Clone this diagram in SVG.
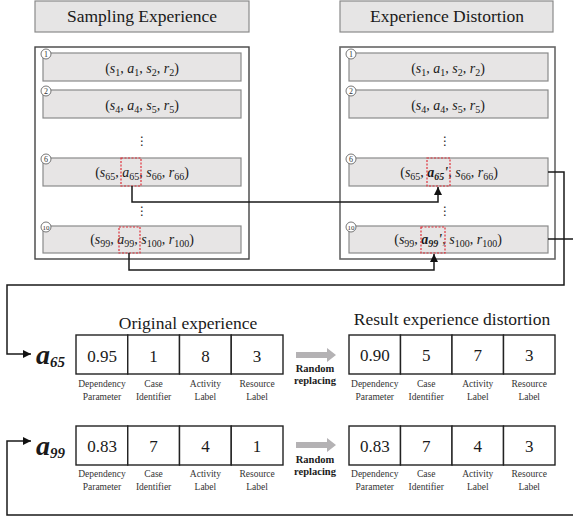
<svg xmlns="http://www.w3.org/2000/svg" width="573" height="518" viewBox="0 0 573 518" font-family="'Liberation Serif','DejaVu Serif','Times New Roman',serif">
<defs>
<style>
text{font-family:'Liberation Serif','DejaVu Serif','Times New Roman',serif;fill:#1a1a1a}
.title{font-size:17.5px;text-anchor:middle}
.tb{fill:#e6e5e5;stroke:#8a8a8a;stroke-width:1.2}
.row{fill:#e7e5e5;stroke:#8a8a8a;stroke-width:1.2}
.outer{fill:#fff;stroke:#444;stroke-width:1.4}
.tup{font-size:14px;text-anchor:middle}
.i{font-style:italic}
.bi{font-style:italic;font-weight:bold}
.red{fill:none;stroke:#e0303a;stroke-width:1.2;stroke-dasharray:2 1.5}
.num{fill:#fff;stroke:#666;stroke-width:0.9}
.nt{font-size:8px;text-anchor:middle;fill:#333}
.dots{font-family:'DejaVu Sans',sans-serif;font-size:12px;text-anchor:middle}
.cell{fill:#fff;stroke:#222;stroke-width:1.4}
.v{font-size:17px;text-anchor:middle}
.lbl{font-size:9.5px;text-anchor:middle;fill:#333}
.rr{font-size:10.5px;font-weight:bold;text-anchor:middle}
.big{font-size:28px;font-weight:bold;font-style:italic}
.cap{font-size:17.5px;text-anchor:middle}
.conn{fill:none;stroke:#1a1a1a;stroke-width:1.5}
.garrow{fill:#b4b2b4}
</style>
<marker id="ah" viewBox="0 0 10 10" refX="10" refY="5" markerWidth="8" markerHeight="8" markerUnits="userSpaceOnUse" orient="auto"><path d="M0,0 L10,5 L0,10 z" fill="#111"/></marker>
</defs>
<rect width="573" height="518" fill="#fff"/>

<g id="sampling-title"><rect class="tb" x="35" y="1" width="214" height="31"/><text class="title" x="142" y="22">Sampling Experience</text></g>
<g id="distortion-title"><rect class="tb" x="340" y="1" width="213" height="31"/><text class="title" x="447" y="22">Experience Distortion</text></g>

<g id="sampling-buffer">
<rect class="outer" x="35" y="47" width="214" height="212"/>
<rect class="row" x="43" y="53" width="198" height="28"/>
<rect class="row" x="43" y="90" width="198" height="28"/>
<rect class="row" x="43" y="158" width="198" height="28"/>
<rect class="row" x="43" y="226" width="198" height="27"/>
<circle class="num" cx="46" cy="54" r="5"/><text class="nt" x="46" y="57">1</text>
<circle class="num" cx="46" cy="91" r="5"/><text class="nt" x="46" y="94">2</text>
<circle class="num" cx="46" cy="159" r="5"/><text class="nt" x="46" y="162">6</text>
<circle class="num" cx="46" cy="227" r="5"/><text class="nt" x="46" y="229.5" style="font-size:7px">10</text>
<text class="tup" x="142" y="73">(<tspan class="i">s</tspan><tspan font-size="10" dy="3">1</tspan><tspan dy="-3">, </tspan><tspan class="i">a</tspan><tspan font-size="10" dy="3">1</tspan><tspan dy="-3">, </tspan><tspan class="i">s</tspan><tspan font-size="10" dy="3">2</tspan><tspan dy="-3">, </tspan><tspan class="i">r</tspan><tspan font-size="10" dy="3">2</tspan><tspan dy="-3">)</tspan></text>
<text class="tup" x="142" y="110">(<tspan class="i">s</tspan><tspan font-size="10" dy="3">4</tspan><tspan dy="-3">, </tspan><tspan class="i">a</tspan><tspan font-size="10" dy="3">4</tspan><tspan dy="-3">, </tspan><tspan class="i">s</tspan><tspan font-size="10" dy="3">5</tspan><tspan dy="-3">, </tspan><tspan class="i">r</tspan><tspan font-size="10" dy="3">5</tspan><tspan dy="-3">)</tspan></text>
<text class="dots" x="142" y="145">⋮</text>
<text class="tup" x="142" y="177">(<tspan class="i">s</tspan><tspan font-size="10" dy="3">65</tspan><tspan dy="-3">, </tspan><tspan class="i">a</tspan><tspan font-size="10" dy="3">65</tspan><tspan dy="-3">, </tspan><tspan class="i">s</tspan><tspan font-size="10" dy="3">66</tspan><tspan dy="-3">, </tspan><tspan class="i">r</tspan><tspan font-size="10" dy="3">66</tspan><tspan dy="-3">)</tspan></text>
<text class="dots" x="142" y="215">⋮</text>
<text class="tup" x="142" y="244">(<tspan class="i">s</tspan><tspan font-size="10" dy="3">99</tspan><tspan dy="-3">, </tspan><tspan class="i">a</tspan><tspan font-size="10" dy="3">99</tspan><tspan dy="-3">, </tspan><tspan class="i">s</tspan><tspan font-size="10" dy="3">100</tspan><tspan dy="-3">, </tspan><tspan class="i">r</tspan><tspan font-size="10" dy="3">100</tspan><tspan dy="-3">)</tspan></text>
<rect class="red" x="121" y="158" width="20" height="28"/>
<rect class="red" x="119" y="227" width="21" height="26"/>
</g>

<g id="distortion-buffer">
<rect class="outer" x="340" y="47" width="215" height="212" style="stroke:#666;stroke-width:1.6"/>
<rect class="row" x="349" y="53" width="199" height="28"/>
<rect class="row" x="349" y="90" width="199" height="28"/>
<rect class="row" x="349" y="158" width="199" height="28"/>
<rect class="row" x="349" y="226" width="199" height="27"/>
<circle class="num" cx="351" cy="54" r="5"/><text class="nt" x="351" y="57">1</text>
<circle class="num" cx="351" cy="91" r="5"/><text class="nt" x="351" y="94">2</text>
<circle class="num" cx="351" cy="159" r="5"/><text class="nt" x="351" y="162">6</text>
<circle class="num" cx="351" cy="227" r="5"/><text class="nt" x="351" y="229.5" style="font-size:7px">10</text>
<text class="tup" x="448" y="73">(<tspan class="i">s</tspan><tspan font-size="10" dy="3">1</tspan><tspan dy="-3">, </tspan><tspan class="i">a</tspan><tspan font-size="10" dy="3">1</tspan><tspan dy="-3">, </tspan><tspan class="i">s</tspan><tspan font-size="10" dy="3">2</tspan><tspan dy="-3">, </tspan><tspan class="i">r</tspan><tspan font-size="10" dy="3">2</tspan><tspan dy="-3">)</tspan></text>
<text class="tup" x="448" y="110">(<tspan class="i">s</tspan><tspan font-size="10" dy="3">4</tspan><tspan dy="-3">, </tspan><tspan class="i">a</tspan><tspan font-size="10" dy="3">4</tspan><tspan dy="-3">, </tspan><tspan class="i">s</tspan><tspan font-size="10" dy="3">5</tspan><tspan dy="-3">, </tspan><tspan class="i">r</tspan><tspan font-size="10" dy="3">5</tspan><tspan dy="-3">)</tspan></text>
<text class="dots" x="445" y="145">⋮</text>
<text class="tup" x="449" y="177">(<tspan class="i">s</tspan><tspan font-size="10" dy="3">65</tspan><tspan dy="-3">, </tspan><tspan class="bi">a</tspan><tspan class="bi" font-size="10" dy="3">65</tspan><tspan class="bi" dy="-3">'</tspan><tspan>, </tspan><tspan class="i">s</tspan><tspan font-size="10" dy="3">66</tspan><tspan dy="-3">, </tspan><tspan class="i">r</tspan><tspan font-size="10" dy="3">66</tspan><tspan dy="-3">)</tspan></text>
<text class="dots" x="445" y="215">⋮</text>
<text class="tup" x="448" y="244">(<tspan class="i">s</tspan><tspan font-size="10" dy="3">99</tspan><tspan dy="-3">, </tspan><tspan class="bi">a</tspan><tspan class="bi" font-size="10" dy="3">99</tspan><tspan class="bi" dy="-3">'</tspan><tspan>, </tspan><tspan class="i">s</tspan><tspan font-size="10" dy="3">100</tspan><tspan dy="-3">, </tspan><tspan class="i">r</tspan><tspan font-size="10" dy="3">100</tspan><tspan dy="-3">)</tspan></text>
<rect class="red" x="427" y="158" width="23" height="28"/>
<rect class="red" x="421" y="227" width="24" height="26"/>
</g>

<g id="connectors">
<path class="conn" d="M132,186 V202 H438 V187" marker-end="url(#ah)"/>
<path class="conn" d="M129,253 V270 H434 V254" marker-end="url(#ah)"/>
<path class="conn" d="M548,172 H564 V285 H7 V354 H31" marker-end="url(#ah)"/>
<path class="conn" d="M548,239 H580 V515 H7 V441 H31" marker-end="url(#ah)"/>
</g>

<g id="label-a65"><text class="big" x="36" y="364">a<tspan font-size="15" dy="3">65</tspan></text></g>
<g id="label-a99"><text class="big" x="36" y="455">a<tspan font-size="15" dy="3">99</tspan></text></g>

<g id="original-65">
<text class="cap" x="188" y="329">Original experience</text>
<rect class="cell" x="76" y="335" width="51.75" height="39"/>
<rect class="cell" x="127.75" y="335" width="51.75" height="39"/>
<rect class="cell" x="179.5" y="335" width="51.75" height="39"/>
<rect class="cell" x="231.25" y="335" width="51.75" height="39"/>
<text class="v" x="102" y="362">0.95</text><text class="v" x="153.6" y="362">1</text><text class="v" x="205.4" y="362">8</text><text class="v" x="257.1" y="362">3</text>
<text class="lbl" x="102" y="387">Dependency</text><text class="lbl" x="102" y="400">Parameter</text>
<text class="lbl" x="153.6" y="387">Case</text><text class="lbl" x="153.6" y="400">Identifier</text>
<text class="lbl" x="205.4" y="387">Activity</text><text class="lbl" x="205.4" y="400">Label</text>
<text class="lbl" x="257.1" y="387">Resource</text><text class="lbl" x="257.1" y="400">Label</text>
</g>

<g id="original-99">
<rect class="cell" x="76" y="426" width="51.75" height="39"/>
<rect class="cell" x="127.75" y="426" width="51.75" height="39"/>
<rect class="cell" x="179.5" y="426" width="51.75" height="39"/>
<rect class="cell" x="231.25" y="426" width="51.75" height="39"/>
<text class="v" x="102" y="452">0.83</text><text class="v" x="153.6" y="452">7</text><text class="v" x="205.4" y="452">4</text><text class="v" x="257.1" y="452">1</text>
<text class="lbl" x="102" y="477">Dependency</text><text class="lbl" x="102" y="490">Parameter</text>
<text class="lbl" x="153.6" y="477">Case</text><text class="lbl" x="153.6" y="490">Identifier</text>
<text class="lbl" x="205.4" y="477">Activity</text><text class="lbl" x="205.4" y="490">Label</text>
<text class="lbl" x="257.1" y="477">Resource</text><text class="lbl" x="257.1" y="490">Label</text>
</g>

<g id="replace-65">
<path class="garrow" d="M296,352 H327 V348 L336,355 L327,362 V358 H296 z"/>
<text class="rr" x="315" y="372">Random</text><text class="rr" x="315" y="384">replacing</text>
</g>
<g id="replace-99">
<path class="garrow" d="M296,442 H327 V438 L336,445 L327,452 V448 H296 z"/>
<text class="rr" x="315" y="463">Random</text><text class="rr" x="315" y="475">replacing</text>
</g>

<g id="result-65">
<text class="cap" x="452" y="325">Result experience distortion</text>
<rect class="cell" x="349" y="335" width="51.5" height="39"/>
<rect class="cell" x="400.5" y="335" width="51.5" height="39"/>
<rect class="cell" x="452" y="335" width="51.5" height="39"/>
<rect class="cell" x="503.5" y="335" width="51.5" height="39"/>
<text class="v" x="374.8" y="361">0.90</text><text class="v" x="426.2" y="361">5</text><text class="v" x="477.8" y="361">7</text><text class="v" x="529.2" y="361">3</text>
<text class="lbl" x="374.8" y="387">Dependency</text><text class="lbl" x="374.8" y="400">Parameter</text>
<text class="lbl" x="426.2" y="387">Case</text><text class="lbl" x="426.2" y="400">Identifier</text>
<text class="lbl" x="477.8" y="387">Activity</text><text class="lbl" x="477.8" y="400">Label</text>
<text class="lbl" x="529.2" y="387">Resource</text><text class="lbl" x="529.2" y="400">Label</text>
</g>

<g id="result-99">
<rect class="cell" x="349" y="426" width="51.5" height="39"/>
<rect class="cell" x="400.5" y="426" width="51.5" height="39"/>
<rect class="cell" x="452" y="426" width="51.5" height="39"/>
<rect class="cell" x="503.5" y="426" width="51.5" height="39"/>
<text class="v" x="374.8" y="452">0.83</text><text class="v" x="426.2" y="452">7</text><text class="v" x="477.8" y="452">4</text><text class="v" x="529.2" y="452">3</text>
<text class="lbl" x="374.8" y="477">Dependency</text><text class="lbl" x="374.8" y="490">Parameter</text>
<text class="lbl" x="426.2" y="477">Case</text><text class="lbl" x="426.2" y="490">Identifier</text>
<text class="lbl" x="477.8" y="477">Activity</text><text class="lbl" x="477.8" y="490">Label</text>
<text class="lbl" x="529.2" y="477">Resource</text><text class="lbl" x="529.2" y="490">Label</text>
</g>
</svg>
